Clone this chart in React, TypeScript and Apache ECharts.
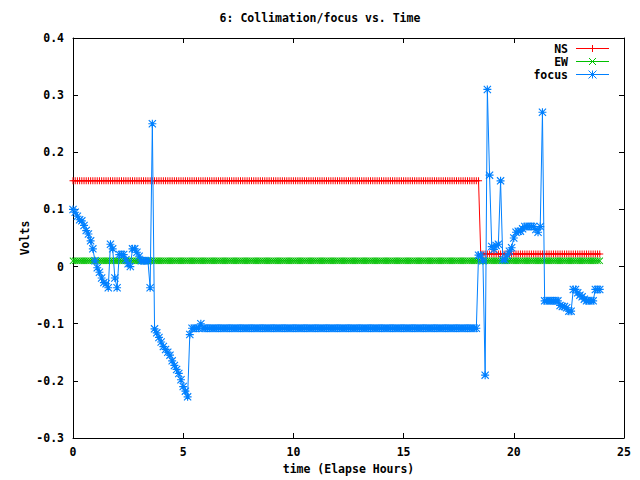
import React, { useEffect, useRef } from "react";
import * as echarts from "echarts";

// Samples are logged every 6 minutes starting at hour 0.
const SAMPLE_STEP_H = 0.1;

const xTicks = [0, 5, 10, 15, 20, 25];
const yTicks = [-0.3, -0.2, -0.1, 0, 0.1, 0.2, 0.3, 0.4];

// NS collimation (V)
const nsVolts = [
  0.15, 0.15, 0.15, 0.15, 0.15, 0.15, 0.15, 0.15, 0.15, 0.15, 0.15, 0.15, 0.15, 0.15, 0.15, 0.15, 0.15, 0.15, 0.15, 0.15,
  0.15, 0.15, 0.15, 0.15, 0.15, 0.15, 0.15, 0.15, 0.15, 0.15, 0.15, 0.15, 0.15, 0.15, 0.15, 0.15, 0.15, 0.15, 0.15, 0.15,
  0.15, 0.15, 0.15, 0.15, 0.15, 0.15, 0.15, 0.15, 0.15, 0.15, 0.15, 0.15, 0.15, 0.15, 0.15, 0.15, 0.15, 0.15, 0.15, 0.15,
  0.15, 0.15, 0.15, 0.15, 0.15, 0.15, 0.15, 0.15, 0.15, 0.15, 0.15, 0.15, 0.15, 0.15, 0.15, 0.15, 0.15, 0.15, 0.15, 0.15,
  0.15, 0.15, 0.15, 0.15, 0.15, 0.15, 0.15, 0.15, 0.15, 0.15, 0.15, 0.15, 0.15, 0.15, 0.15, 0.15, 0.15, 0.15, 0.15, 0.15,
  0.15, 0.15, 0.15, 0.15, 0.15, 0.15, 0.15, 0.15, 0.15, 0.15, 0.15, 0.15, 0.15, 0.15, 0.15, 0.15, 0.15, 0.15, 0.15, 0.15,
  0.15, 0.15, 0.15, 0.15, 0.15, 0.15, 0.15, 0.15, 0.15, 0.15, 0.15, 0.15, 0.15, 0.15, 0.15, 0.15, 0.15, 0.15, 0.15, 0.15,
  0.15, 0.15, 0.15, 0.15, 0.15, 0.15, 0.15, 0.15, 0.15, 0.15, 0.15, 0.15, 0.15, 0.15, 0.15, 0.15, 0.15, 0.15, 0.15, 0.15,
  0.15, 0.15, 0.15, 0.15, 0.15, 0.15, 0.15, 0.15, 0.15, 0.15, 0.15, 0.15, 0.15, 0.15, 0.15, 0.15, 0.15, 0.15, 0.15, 0.15,
  0.15, 0.15, 0.15, 0.15, 0.15, 0.022, 0.022, 0.022, 0.022, 0.022, 0.022, 0.022, 0.022, 0.022, 0.022, 0.022, 0.022, 0.022, 0.022, 0.022,
  0.022, 0.022, 0.022, 0.022, 0.022, 0.022, 0.022, 0.022, 0.022, 0.022, 0.022, 0.022, 0.022, 0.022, 0.022, 0.022, 0.022, 0.022, 0.022, 0.022,
  0.022, 0.022, 0.022, 0.022, 0.022, 0.022, 0.022, 0.022, 0.022, 0.022, 0.022, 0.022, 0.022, 0.022, 0.022, 0.022, 0.022, 0.022, 0.022, 0.022,
];

// EW collimation (V)
const ewVolts = [
  0.01, 0.01, 0.01, 0.01, 0.01, 0.01, 0.01, 0.01, 0.01, 0.01, 0.01, 0.01, 0.01, 0.01, 0.01, 0.01, 0.01, 0.01, 0.01, 0.01,
  0.01, 0.01, 0.01, 0.01, 0.01, 0.01, 0.01, 0.01, 0.01, 0.01, 0.01, 0.01, 0.01, 0.01, 0.01, 0.01, 0.01, 0.01, 0.01, 0.01,
  0.01, 0.01, 0.01, 0.01, 0.01, 0.01, 0.01, 0.01, 0.01, 0.01, 0.01, 0.01, 0.01, 0.01, 0.01, 0.01, 0.01, 0.01, 0.01, 0.01,
  0.01, 0.01, 0.01, 0.01, 0.01, 0.01, 0.01, 0.01, 0.01, 0.01, 0.01, 0.01, 0.01, 0.01, 0.01, 0.01, 0.01, 0.01, 0.01, 0.01,
  0.01, 0.01, 0.01, 0.01, 0.01, 0.01, 0.01, 0.01, 0.01, 0.01, 0.01, 0.01, 0.01, 0.01, 0.01, 0.01, 0.01, 0.01, 0.01, 0.01,
  0.01, 0.01, 0.01, 0.01, 0.01, 0.01, 0.01, 0.01, 0.01, 0.01, 0.01, 0.01, 0.01, 0.01, 0.01, 0.01, 0.01, 0.01, 0.01, 0.01,
  0.01, 0.01, 0.01, 0.01, 0.01, 0.01, 0.01, 0.01, 0.01, 0.01, 0.01, 0.01, 0.01, 0.01, 0.01, 0.01, 0.01, 0.01, 0.01, 0.01,
  0.01, 0.01, 0.01, 0.01, 0.01, 0.01, 0.01, 0.01, 0.01, 0.01, 0.01, 0.01, 0.01, 0.01, 0.01, 0.01, 0.01, 0.01, 0.01, 0.01,
  0.01, 0.01, 0.01, 0.01, 0.01, 0.01, 0.01, 0.01, 0.01, 0.01, 0.01, 0.01, 0.01, 0.01, 0.01, 0.01, 0.01, 0.01, 0.01, 0.01,
  0.01, 0.01, 0.01, 0.01, 0.01, 0.01, 0.01, 0.01, 0.01, 0.01, 0.01, 0.01, 0.01, 0.01, 0.01, 0.01, 0.01, 0.01, 0.01, 0.01,
  0.01, 0.01, 0.01, 0.01, 0.01, 0.01, 0.01, 0.01, 0.01, 0.01, 0.01, 0.01, 0.01, 0.01, 0.01, 0.01, 0.01, 0.01, 0.01, 0.01,
  0.01, 0.01, 0.01, 0.01, 0.01, 0.01, 0.01, 0.01, 0.01, 0.01, 0.01, 0.01, 0.01, 0.01, 0.01, 0.01, 0.01, 0.01, 0.01, 0.01,
];

// Focus (V)
const focusVolts = [
  0.1, 0.095, 0.088, 0.082, 0.08, 0.072, 0.063, 0.057, 0.045, 0.031,
  0.01, -0.002, -0.01, -0.02, -0.028, -0.03, -0.037, 0.039, 0.031, -0.02,
  -0.037, 0.021, 0.021, 0.021, 0.012, 0.005, 0, 0.031, 0.031, 0.025,
  0.018, 0.01, 0.01, 0.01, 0.01, -0.037, 0.25, -0.109, -0.116, -0.124,
  -0.132, -0.14, -0.145, -0.15, -0.155, -0.165, -0.173, -0.18, -0.187, -0.198,
  -0.21, -0.218, -0.228, -0.119, -0.108, -0.108, -0.108, -0.108, -0.1, -0.108,
  -0.108, -0.108, -0.108, -0.108, -0.108, -0.108, -0.108, -0.108, -0.108, -0.108,
  -0.108, -0.108, -0.108, -0.108, -0.108, -0.108, -0.108, -0.108, -0.108, -0.108,
  -0.108, -0.108, -0.108, -0.108, -0.108, -0.108, -0.108, -0.108, -0.108, -0.108,
  -0.108, -0.108, -0.108, -0.108, -0.108, -0.108, -0.108, -0.108, -0.108, -0.108,
  -0.108, -0.108, -0.108, -0.108, -0.108, -0.108, -0.108, -0.108, -0.108, -0.108,
  -0.108, -0.108, -0.108, -0.108, -0.108, -0.108, -0.108, -0.108, -0.108, -0.108,
  -0.108, -0.108, -0.108, -0.108, -0.108, -0.108, -0.108, -0.108, -0.108, -0.108,
  -0.108, -0.108, -0.108, -0.108, -0.108, -0.108, -0.108, -0.108, -0.108, -0.108,
  -0.108, -0.108, -0.108, -0.108, -0.108, -0.108, -0.108, -0.108, -0.108, -0.108,
  -0.108, -0.108, -0.108, -0.108, -0.108, -0.108, -0.108, -0.108, -0.108, -0.108,
  -0.108, -0.108, -0.108, -0.108, -0.108, -0.108, -0.108, -0.108, -0.108, -0.108,
  -0.108, -0.108, -0.108, -0.108, -0.108, -0.108, -0.108, -0.108, -0.108, -0.108,
  -0.108, -0.108, -0.108, -0.108, 0.02, 0.02, 0.01, -0.19, 0.31, 0.16,
  0.035, 0.03, 0.037, 0.039, 0.15, 0.012, 0.012, 0.02, 0.027, 0.033,
  0.05, 0.06, 0.062, 0.062, 0.066, 0.07, 0.07, 0.07, 0.07, 0.07,
  0.065, 0.06, 0.07, 0.27, -0.06, -0.06, -0.06, -0.06, -0.06, -0.06,
  -0.06, -0.068, -0.07, -0.07, -0.072, -0.078, -0.078, -0.04, -0.04, -0.046,
  -0.05, -0.053, -0.057, -0.06, -0.06, -0.06, -0.06, -0.04, -0.04, -0.04,
];

const seriesNames = ["NS", "EW", "focus"];
const seriesColors = ["#ff0000", "#00c000", "#0080ff"];

const MONO = '"DejaVu Sans Mono", "Liberation Mono", monospace';
const FONT_SIZE = 11.5;

// Point markers drawn as filled outlines: plus, diagonal cross, and star (both).
const PLUS_D = "M-0.5,-3.5H0.5V-0.5H3.5V0.5H0.5V3.5H-0.5V0.5H-3.5V-0.5H-0.5Z";
const CROSS_D = "M-3.5,-2.8L-2.8,-3.5L3.5,2.8L2.8,3.5Z M2.8,-3.5L3.5,-2.8L-2.8,3.5L-3.5,2.8Z";
const markerSymbols = ["path://" + PLUS_D, "path://" + CROSS_D, "path://" + PLUS_D + " " + CROSS_D];
const markerSizes = [7, 7, 8];

const GRID = { left: 73, right: 16, top: 38, bottom: 42 };

function legendMarker(kind: number, cx: number, cy: number, color: string, r: number) {
  const style = { stroke: color, lineWidth: 1 };
  const parts: any[] = [];
  if (kind === 0 || kind === 2) {
    parts.push({ type: "line", shape: { x1: cx - r, y1: cy, x2: cx + r, y2: cy }, style });
    parts.push({ type: "line", shape: { x1: cx, y1: cy - r, x2: cx, y2: cy + r }, style });
  }
  if (kind === 1 || kind === 2) {
    parts.push({ type: "line", shape: { x1: cx - r, y1: cy - r, x2: cx + r, y2: cy + r }, style });
    parts.push({ type: "line", shape: { x1: cx - r, y1: cy + r, x2: cx + r, y2: cy - r }, style });
  }
  return parts;
}

export default function App() {
  const ref = useRef<HTMLDivElement>(null);

  useEffect(() => {
    const el = ref.current;
    if (!el) return;
    const chart = echarts.init(el, null, { renderer: "svg" });

    const hours = focusVolts.map((_, i) => Math.round(i * SAMPLE_STEP_H * 10) / 10);
    const toPairs = (vals: number[]) => vals.map((v, i) => [hours[i], v]);
    const allValues = [nsVolts, ewVolts, focusVolts];

    const labelStyle = {
      color: "#000",
      fontFamily: MONO,
      fontSize: FONT_SIZE,
      fontWeight: "bold" as const,
    };

    const xCommon = {
      type: "value" as const,
      min: xTicks[0],
      max: xTicks[xTicks.length - 1],
      interval: xTicks[1] - xTicks[0],
      splitLine: { show: false },
      axisLine: { show: true, onZero: false, lineStyle: { color: "#000", width: 1 } },
      axisTick: { show: true, inside: true, length: 5, lineStyle: { color: "#000", width: 1 } },
    };
    const yCommon = {
      type: "value" as const,
      min: yTicks[0],
      max: yTicks[yTicks.length - 1],
      interval: 0.1,
      splitLine: { show: false },
      axisLine: { show: true, onZero: false, lineStyle: { color: "#000", width: 1 } },
      axisTick: { show: true, inside: true, length: 5, lineStyle: { color: "#000", width: 1 } },
    };

    // Legend block in the upper-right corner of the plot
    const legendGraphics: any[] = [];
    const legendYs = [48.5, 61.5, 74.5];
    seriesNames.forEach((name, i) => {
      const y = legendYs[i];
      legendGraphics.push({
        type: "text",
        x: 568,
        y,
        style: {
          text: name,
          fill: "#000",
          font: `bold ${FONT_SIZE}px ${MONO}`,
          align: "right",
          verticalAlign: "middle",
        },
      });
      legendGraphics.push({
        type: "line",
        shape: { x1: 576, y1: y, x2: 609, y2: y },
        style: { stroke: seriesColors[i], lineWidth: 1 },
      });
      legendGraphics.push(...legendMarker(i, 592.5, y, seriesColors[i], i === 2 ? 4 : 3.5));
    });

    chart.setOption({
      animation: false,
      backgroundColor: "#fff",
      title: {
        text: "6: Collimation/focus vs. Time",
        left: "center",
        top: 12,
        padding: 0,
        textStyle: { ...labelStyle },
      },
      grid: { ...GRID, containLabel: false },
      xAxis: [
        {
          ...xCommon,
          position: "bottom",
          axisLabel: { ...labelStyle, margin: 8 },
          name: "time (Elapse Hours)",
          nameLocation: "middle",
          nameGap: 25,
          nameMoveOverlap: false,
          nameTextStyle: { ...labelStyle },
        },
        { ...xCommon, position: "top", axisLabel: { show: false } },
      ],
      yAxis: [
        {
          ...yCommon,
          position: "left",
          axisLabel: { ...labelStyle, margin: 9 },
          name: "Volts",
          nameLocation: "middle",
          nameRotate: 90,
          nameGap: 42,
          nameMoveOverlap: false,
          nameTextStyle: { ...labelStyle },
        },
        { ...yCommon, position: "right", axisLabel: { show: false } },
      ],
      graphic: legendGraphics,
      series: seriesNames.map((name, i) => ({
        name,
        type: "line",
        xAxisIndex: 0,
        yAxisIndex: 0,
        data: toPairs(allValues[i]),
        showSymbol: true,
        symbol: markerSymbols[i],
        symbolSize: markerSizes[i],
        lineStyle: { color: seriesColors[i], width: 1 },
        itemStyle: { color: seriesColors[i], borderWidth: 0 },
        emphasis: { disabled: true },
        silent: true,
        z: 2 + i,
      })),
    });

    return () => chart.dispose();
  }, []);

  return (
    <div
      ref={ref}
      style={{ position: "fixed", left: 0, top: 0, width: 640, height: 480, background: "#fff" }}
    />
  );
}
